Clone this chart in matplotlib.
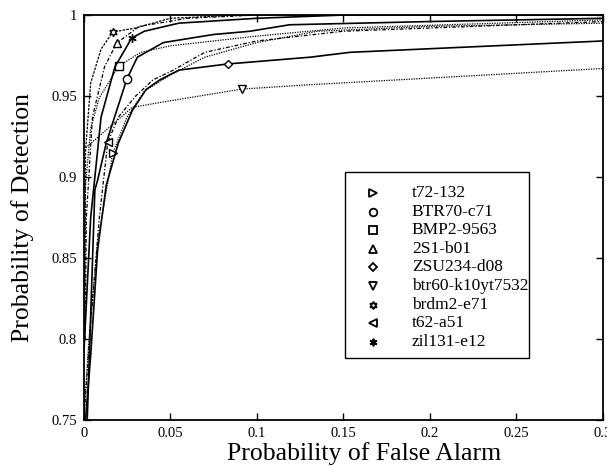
import matplotlib
matplotlib.use("Agg")
import matplotlib.pyplot as plt
from matplotlib.patches import Rectangle

plt.rcParams['font.family'] = ['Liberation Serif', 'DejaVu Serif']

display_labels = ['t72-132', 'BTR70-c71', 'BMP2-9563', '2S1-b01', 'ZSU234-d08',
                  'btr60-k10yt7532', 'brdm2-e71', 't62-a51', 'zil131-e12']

t72_x = [0, 0.003, 0.008, 0.0168, 0.025, 0.035, 0.05, 0.07, 0.1, 0.135, 0.2, 0.3]
t72_y = [0.75, 0.80, 0.86, 0.9148, 0.937, 0.953, 0.963, 0.974, 0.983, 0.990, 0.993, 0.995]

btr70_x = [0.002, 0.0064, 0.008, 0.013, 0.019, 0.0249, 0.031, 0.046, 0.075, 0.096, 0.119, 0.2, 0.3]
btr70_y = [0.75, 0.892, 0.898, 0.921, 0.941, 0.9605, 0.974, 0.983, 0.988, 0.990, 0.994, 0.996, 0.998]

bmp2_x = [0.0005, 0.001, 0.004, 0.009, 0.0202, 0.033, 0.05, 0.1, 0.15, 0.3]
bmp2_y = [0.81, 0.895, 0.930, 0.949, 0.9685, 0.977, 0.981, 0.987, 0.992, 0.997]

s2s1_x = [0.0008, 0.0015, 0.005, 0.012, 0.019, 0.032, 0.06, 0.1, 0.3]
s2s1_y = [0.80, 0.875, 0.937, 0.968, 0.9827, 0.993, 0.998, 1.0, 1.0]

zsu_x = [0.001, 0.004, 0.008, 0.013, 0.02, 0.028, 0.036, 0.044, 0.055, 0.0832, 0.131, 0.154, 0.3]
zsu_y = [0.75, 0.79, 0.855, 0.895, 0.921, 0.941, 0.954, 0.960, 0.966, 0.9698, 0.974, 0.977, 0.984]

btr60_x = [0, 0.028, 0.044, 0.0913, 0.131, 0.3]
btr60_y = [0.917, 0.943, 0.946, 0.9543, 0.957, 0.967]

brdm2_x = [0.0005, 0.001, 0.004, 0.01, 0.0168, 0.03, 0.05, 0.09, 0.3]
brdm2_y = [0.83, 0.916, 0.958, 0.979, 0.9895, 0.992, 0.998, 1.0, 1.0]

t62_x = [0, 0.004, 0.009, 0.0139, 0.02, 0.03, 0.04, 0.05, 0.07, 0.1, 0.15, 0.3]
t62_y = [0.75, 0.81, 0.875, 0.9216, 0.937, 0.95, 0.96, 0.965, 0.977, 0.984, 0.99, 0.996]

zil_x = [0, 0.004, 0.01, 0.018, 0.0277, 0.035, 0.055, 0.1, 0.15, 0.3]
zil_y = [0.79, 0.875, 0.937, 0.968, 0.9858, 0.99, 0.995, 0.998, 1.0, 1.0]

series = [
    (t72_x, t72_y, 3, '>', (0, (1, 1)), 0.9),
    (btr70_x, btr70_y, 5, 'o', '-', 1.2),
    (bmp2_x, bmp2_y, 4, 's', (0, (1, 1)), 0.9),
    (s2s1_x, s2s1_y, 4, '^', (0, (3, 1.5, 1, 1.5)), 0.9),
    (zsu_x, zsu_y, 9, 'D', '-', 1.2),
    (btr60_x, btr60_y, 3, 'v', (0, (1, 1)), 0.9),
    (brdm2_x, brdm2_y, 4, (6, 1, 0), (0, (2, 1)), 0.9),
    (t62_x, t62_y, 3, '<', (0, (3, 1.5, 1, 1.5)), 0.9),
    (zil_x, zil_y, 4, (6, 2, 0), '-', 1.2),
]

fig = plt.figure(figsize=(6.07, 4.66), dpi=100)
ax = fig.add_axes([0.138, 0.0987, 0.855, 0.869])

for (xs, ys, mi, mk, ls, lw), lab in zip(series, display_labels):
    ax.plot(xs, ys, color='black', linestyle=ls, linewidth=lw)
    ms = 6 if mk != 'D' else 4.5
    ax.plot([xs[mi]], [ys[mi]], linestyle='none', marker=mk, markersize=ms,
            markerfacecolor='white', markeredgecolor='black', markeredgewidth=1.0)

ax.set_xlim(0, 0.3)
ax.set_ylim(0.75, 1.0)
ax.set_xticks([0, 0.05, 0.1, 0.15, 0.2, 0.25, 0.3])
ax.set_xticklabels(['0', '0.05', '0.1', '0.15', '0.2', '0.25', '0.3'])
ax.set_yticks([0.75, 0.8, 0.85, 0.9, 0.95, 1.0])
ax.set_yticklabels(['0.75', '0.8', '0.85', '0.9', '0.95', '1'])
ax.tick_params(direction='in', length=5, width=1, labelsize=10.5, top=True, right=True,
               labeltop=False, labelright=False, pad=5)
for sp in ax.spines.values():
    sp.set_linewidth(1.3)

ax.set_xlabel('Probability of False Alarm', fontsize=18.5)
ax.xaxis.set_label_coords(0.54, -0.055, transform=ax.transAxes)
ax.xaxis.label.set_verticalalignment('top')
ax.set_ylabel('Probability of Detection', fontsize=18.5)
ax.yaxis.set_label_coords(-0.118, 0.5, transform=ax.transAxes)
ax.yaxis.label.set_verticalalignment('center')

# legend box (manual, to match the tight right padding of the original)
box_x0, box_x1 = 0.503, 0.857
box_y0, box_y1 = 0.153, 0.612
ax.add_patch(Rectangle((box_x0, box_y0), box_x1 - box_x0, box_y1 - box_y0,
                       transform=ax.transAxes, facecolor='white', edgecolor='black',
                       linewidth=1.0, zorder=5))
row0 = 0.5605
row_step = 0.0459
for i, ((xs, ys, mi, mk, ls, lw), lab) in enumerate(zip(series, display_labels)):
    yy = row0 - i * row_step
    ax.plot([0.557], [yy], transform=ax.transAxes, linestyle='none', marker=mk,
            markersize=5.5 if mk != 'D' else 4.5, markerfacecolor='white',
            markeredgecolor='black', markeredgewidth=1.3, zorder=6, clip_on=False)
    ax.text(0.632, yy, lab, transform=ax.transAxes, fontsize=12.5, va='center',
            ha='left', zorder=6)

fig.savefig('out.png', dpi=100)
